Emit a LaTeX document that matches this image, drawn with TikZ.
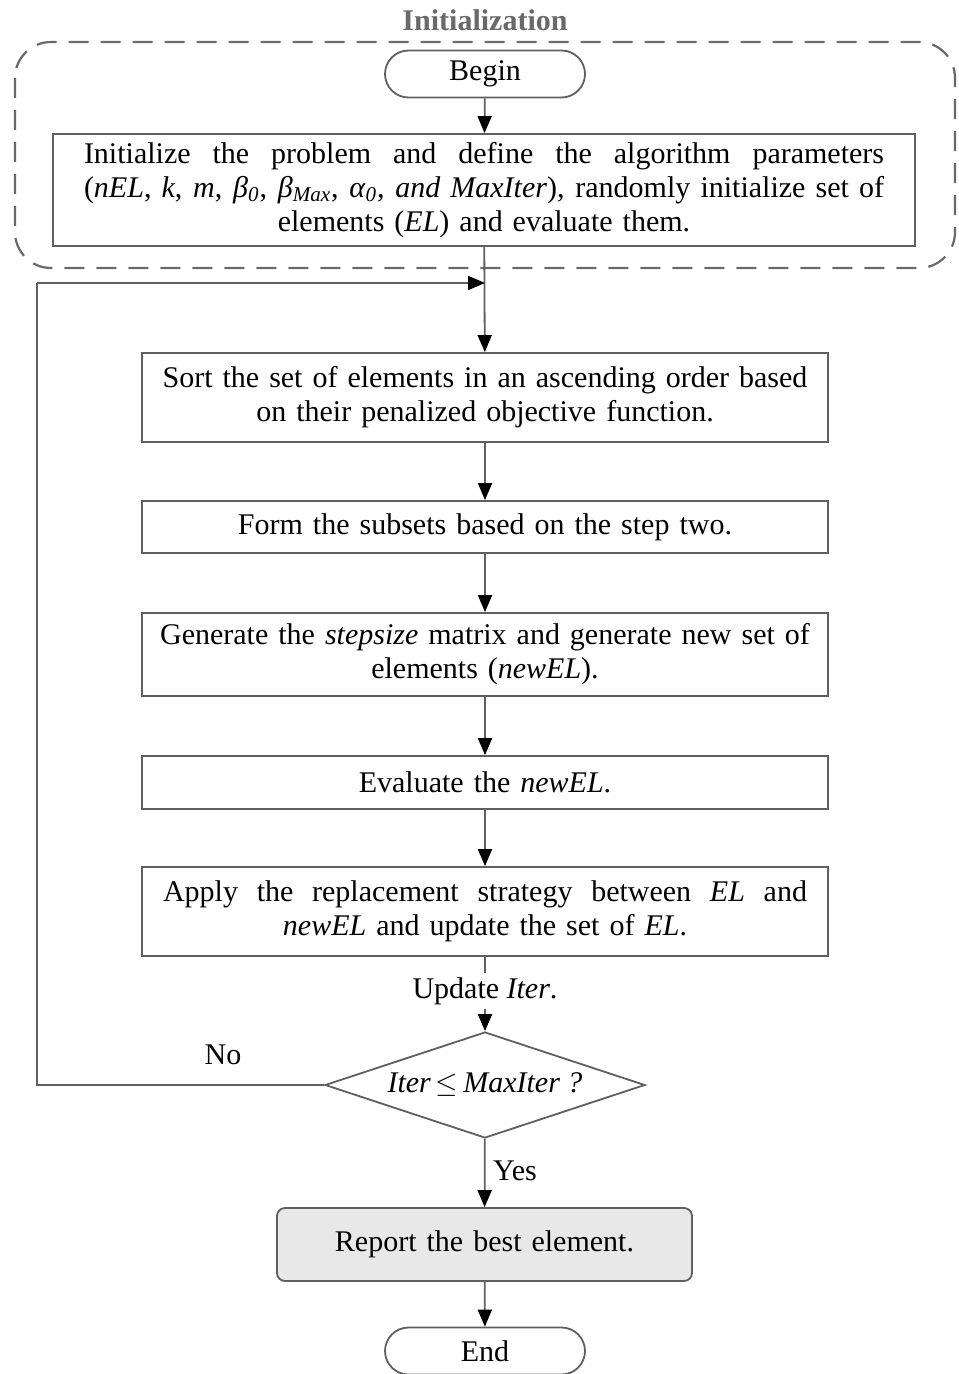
\documentclass[tikz,border=0pt]{standalone}
\usepackage{fontspec}
\setmainfont{Liberation Serif}
\usetikzlibrary{shapes.geometric,arrows.meta}
\definecolor{linegray}{RGB}{95,95,95}
\definecolor{dashgray}{RGB}{105,105,105}
\definecolor{fillgray}{RGB}{232,232,232}
\newcommand{\fullline}[2]{\leavevmode\hbox to #1{\spaceskip=0.25em plus 1fil\relax #2}}
\tikzset{
  every node/.style={font=\fontsize{15}{17}\selectfont},
  procbox/.style={draw=linegray, line width=0.9pt, minimum width=343pt, text width=340pt, align=center, inner sep=0pt},
  termbox/.style={draw=linegray, line width=0.9pt, rounded corners=11.75pt, minimum width=100pt, minimum height=23.5pt, inner sep=0pt},
  decbox/.style={draw=linegray, line width=0.9pt, diamond, aspect=3, minimum width=160pt, minimum height=53pt, inner sep=0pt},
  arrow/.style={draw=linegray, line width=0.9pt, -{Triangle[length=8.5pt,width=7pt,color=black]}},
  link/.style={draw=linegray, line width=0.9pt}
}
\begin{document}
\begin{tikzpicture}[x=0.5pt,y=-0.5pt]
\useasboundingbox (0,0) rectangle (958,1374);
\node[text=dashgray, font=\fontsize{15}{17}\selectfont\bfseries] (initlabel) at (485,20) {Initialization};
\draw[dashgray, line width=1.1pt, dash pattern=on 10pt off 6pt, rounded corners=18pt] (15,42) rectangle (955,268);
\node[termbox] (begin) at (485,74) {Begin};
\node[procbox, minimum width=431pt, minimum height=56pt, text width=400pt] (init) at (484,190)
  {\fullline{400pt}{Initialize the problem and define the algorithm parameters}\\
   \fullline{400pt}{(\textit{nEL}, \textit{k}, \textit{m}, \textit{β}\textsubscript{\textit{0}}, \textit{β}\textsubscript{\textit{Max}}, \textit{α}\textsubscript{\textit{0}}, \textit{and MaxIter}), randomly initialize set of}\\
   elements (\textit{EL}) and evaluate them.};
\coordinate (merge) at (485,283);
\coordinate (loopcorner) at (37,283);
\node[procbox, minimum height=44.5pt] (sort) at (485,397.5)
  {Sort the set of elements in an ascending order based\\ on their penalized objective function.};
\node[procbox, minimum height=26pt] (subsets) at (485,527) {Form the subsets based on the step two.};
\node[procbox, minimum height=41.5pt] (generate) at (485,654.5)
  {Generate the \textit{stepsize} matrix and generate new set of\\ elements (\textit{newEL}).};
\node[procbox, minimum height=26.5pt] (evaluate) at (485,782.5) {Evaluate the \textit{newEL}.};
\node[procbox, minimum height=44.5pt] (replace) at (485,911.5)
  {\fullline{322pt}{Apply the replacement strategy between \textit{EL} and}\\ \textit{newEL} and update the set of \textit{EL}.};
\node[inner sep=2pt] (update) at (485,991) {Update \textit{Iter}.};
\node[decbox] (check) at (485,1085) {\textit{Iter}\,$\leq$\,\textit{MaxIter ?}};
\node (nolabel) at (223,1055) {No};
\node (yeslabel) at (515,1171) {Yes};
\node[procbox, fill=fillgray, rounded corners=4pt, minimum width=207.5pt, text width=200pt, minimum height=36.5pt] (report) at (484.5,1244.5) {Report the best element.};
\node[termbox] (end) at (485,1351) {End};

\draw[arrow] (begin) -- (init);
\draw[arrow] (init) -- (sort);
\draw[arrow] (sort) -- (subsets);
\draw[arrow] (subsets) -- (generate);
\draw[arrow] (generate) -- (evaluate);
\draw[arrow] (evaluate) -- (replace);
\draw[link] (replace) -- (update);
\draw[arrow] (update) -- (check);
\draw[link] (check.west) -| (loopcorner);
\draw[arrow] (loopcorner) -- (merge);
\draw[arrow] (check) -- (report);
\draw[arrow] (report) -- (end);
\end{tikzpicture}
\end{document}
